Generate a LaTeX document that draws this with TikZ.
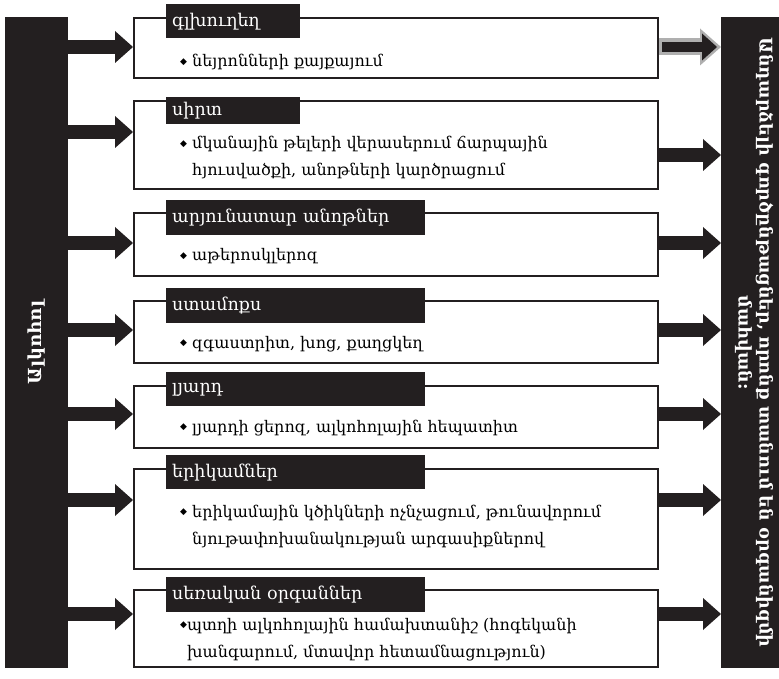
\documentclass[tikz,border=0pt]{standalone}
\usepackage{fontspec}
\setmainfont{DejaVu Serif}
\newfontfamily\symfont{DejaVu Sans}
\usepackage{tikz}
\usetikzlibrary{arrows.meta}
\definecolor{ink}{RGB}{35,31,32}
\definecolor{rim}{RGB}{175,175,175}
\newcommand{\dia}{\raisebox{2.5pt}{\symfont\fontsize{9}{9}\selectfont ◆}}
\tikzset{
  sidebar/.style={fill=ink, anchor=north west, inner sep=0pt},
  organbox/.style={draw=ink, line width=2pt, anchor=north west, minimum width=524pt, inner sep=0pt},
  organtab/.style={fill=ink, text=white, anchor=north west, inner xsep=6pt, inner ysep=0pt, align=left, font=\fontsize{17.5}{19}\selectfont},
  effect/.style={anchor=base west, align=left, inner sep=0pt, font=\fontsize{16}{27}\selectfont},
  blockarrow/.style={ink, line width=14pt, -{Triangle[length=18pt, width=32pt, line width=0pt]}},
}

\begin{document}
\begin{tikzpicture}[x=1pt, y=-1pt]
    \useasboundingbox (0, 0) rectangle (779, 679);
    \begin{scope}
      \node[sidebar, minimum width=63pt, minimum height=651pt] (alk) at (5, 17) {};
      \node[sidebar, minimum width=58pt, minimum height=651pt] (res) at (721, 17) {};
      \node[rotate=90, text=white, font=\bfseries\fontsize{18}{20}\selectfont] (alklabel) at (alk.center) {Ալկոհոլ};
      \node[rotate=-90, text=white, align=center, font=\bfseries\fontsize{17.5}{21}\selectfont] (reslabel) at ([xshift=4pt]res.center) {Անդարձելի գործընթացներ, որոնք տանում են օրգանիզմի\\մահվան:};

      \node[organbox, minimum height=60pt] (b1) at (133, 17) {};
      \node[organbox, minimum height=88pt] (b2) at (133, 100) {};
      \node[organbox, minimum height=63pt] (b3) at (133, 212) {};
      \node[organbox, minimum height=62pt] (b4) at (133, 300) {};
      \node[organbox, minimum height=62pt] (b5) at (133, 385) {};
      \node[organbox, minimum height=100pt] (b6) at (133, 468) {};
      \node[organbox, minimum height=77pt] (b7) at (133, 589) {};

      \node[organtab, text width=122pt, minimum height=34pt] (h1) at (166, 4) {գլխուղեղ};
      \node[organtab, text width=122pt, minimum height=27pt] (h2) at (166, 97) {սիրտ};
      \node[organtab, text width=247pt, minimum height=35pt] (h3) at (166, 200) {արյունատար անոթներ};
      \node[organtab, text width=247pt, minimum height=35pt] (h4) at (166, 288) {ստամոքս};
      \node[organtab, text width=247pt, minimum height=34pt] (h5) at (166, 372) {լյարդ};
      \node[organtab, text width=247pt, minimum height=34pt] (h6) at (166, 455) {երիկամներ};
      \node[organtab, text width=247pt, minimum height=35pt] (h7) at (166, 577) {սեռական օրգաններ};

      \node[effect] (e1) at (180, 67) {\dia\ նեյրոնների քայքայում};
      \node[effect] (e2) at (180, 176) {\dia\ մկանային թելերի վերասերում ճարպային\\\phantom{\dia\ }հյուսվածքի, անոթների կարծրացում};
      \node[effect] (e3) at (180, 261) {\dia\ աթերոսկլերոզ};
      \node[effect] (e4) at (180, 348) {\dia\ զգաստրիտ, խոց, քաղցկեղ};
      \node[effect] (e5) at (180, 432) {\dia\ լյարդի ցերոզ, ալկոհոլային հեպատիտ};
      \node[effect] (e6) at (180, 544) {\dia\ երիկամային կծիկների ոչնչացում, թունավորում\\\phantom{\dia\ }նյութափոխանակության արգասիքներով};
      \node[effect] (e7) at (180, 657) {\dia պտղի ալկոհոլային համախտանիշ (հոգեկանի\\\phantom{\dia}խանգարում, մտավոր հետամնացություն)};

      \coordinate (a1) at (0, 47);
      \coordinate (a2) at (0, 132);
      \coordinate (a3) at (0, 243);
      \coordinate (a4) at (0, 330);
      \coordinate (a5) at (0, 414);
      \coordinate (a6) at (0, 500);
      \coordinate (a7) at (0, 614);
      \coordinate (r2) at (0, 155);

      \draw[blockarrow] (alk.east |- a1) -- (b1.west |- a1);
      \draw[blockarrow] (alk.east |- a2) -- (b2.west |- a2);
      \draw[blockarrow] (alk.east |- a3) -- (b3.west |- a3);
      \draw[blockarrow] (alk.east |- a4) -- (b4.west |- a4);
      \draw[blockarrow] (alk.east |- a5) -- (b5.west |- a5);
      \draw[blockarrow] (alk.east |- a6) -- (b6.west |- a6);
      \draw[blockarrow] (alk.east |- a7) -- (b7.west |- a7);

      \draw[rim, line width=17pt, -{Triangle[length=21pt, width=37pt, line width=0pt]}] (b1.east |- a1) -- (res.west |- a1);
      \draw[ink, line width=10pt, shorten <=3pt, shorten >=4pt, -{Triangle[length=15pt, width=27pt, line width=0pt]}] (b1.east |- a1) -- (res.west |- a1);
      \draw[blockarrow] (b2.east |- r2) -- (res.west |- r2);
      \draw[blockarrow] (b3.east |- a3) -- (res.west |- a3);
      \draw[blockarrow] (b4.east |- a4) -- (res.west |- a4);
      \draw[blockarrow] (b5.east |- a5) -- (res.west |- a5);
      \draw[blockarrow] (b6.east |- a6) -- (res.west |- a6);
      \draw[blockarrow] (b7.east |- a7) -- (res.west |- a7);
    \end{scope}
  \end{tikzpicture}
\end{document}
